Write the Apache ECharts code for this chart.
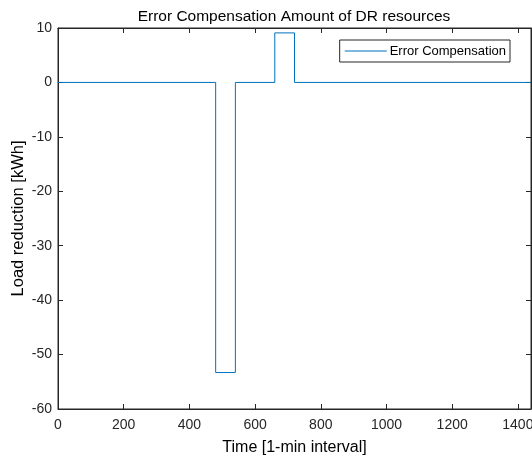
<!DOCTYPE html>
<html>
<head>
<meta charset="utf-8">
<script src="https://cdn.jsdelivr.net/npm/echarts@6/dist/echarts.min.js"></script>
<style>html,body{margin:0;padding:0;background:#fff;}#c{width:532px;height:459px;}</style>
</head>
<body>
<div id="c"></div>
<script>
var timePoints = [0, 480, 540, 660, 720, 1440];
var compensation = [0, -53.3, 0, 9.1, 0, 0];
var xTicks = [0, 200, 400, 600, 800, 1000, 1200, 1400];
var yTicks = [-60, -50, -40, -30, -20, -10, 0, 10];

var seriesData = timePoints.map(function (t, i) { return [t, compensation[i]]; });
var axisColor = '#262626';
var font = 'Liberation Sans, Arial, Helvetica, sans-serif';

var chart = echarts.init(document.getElementById('c'), null, {renderer: 'canvas'});
chart.setOption({
  animation: false,
  backgroundColor: '#fff',
  title: {
    text: 'Error Compensation Amount of DR resources',
    left: 289, top: 4, textAlign: 'center',
    textStyle: {fontFamily: font, fontSize: 15.5, fontWeight: 'normal', color: '#000'}
  },
  legend: {
    right: 22, top: 40,
    orient: 'vertical',
    backgroundColor: '#fff',
    borderColor: axisColor, borderWidth: 1, borderRadius: 0,
    padding: [4, 4, 4, 5],
    itemWidth: 42, itemHeight: 1, itemGap: 0,
    textStyle: {fontFamily: font, fontSize: 13, color: '#000', lineHeight: 14, padding: [0, 0, 0, -2]},
    data: [{name: 'Error Compensation', icon: 'rect'}]
  },
  grid: {left: 58, top: 28, right: 1, bottom: 50, show: true, borderColor: axisColor, borderWidth: 1, containLabel: false, outerBoundsMode: 'none'},
  xAxis: [{
    type: 'value', min: 0, max: 1440, interval: 200, position: 'bottom',
    name: 'Time [1-min interval]', nameLocation: 'middle', nameGap: 31, nameMoveOverlap: false,
    nameTextStyle: {fontFamily: font, fontSize: 16, color: '#000'},
    axisLine: {show: true, onZero: false, lineStyle: {color: axisColor, width: 1}},
    axisTick: {show: true, inside: true, length: 5, lineStyle: {color: axisColor}},
    axisLabel: {fontFamily: font, fontSize: 14, color: axisColor, margin: 9,
      formatter: function (v) { return xTicks.indexOf(v) >= 0 ? String(v) : ''; }},
    splitLine: {show: false}
  }, {
    type: 'value', min: 0, max: 1440, interval: 200, position: 'top',
    axisLine: {show: true, onZero: false, lineStyle: {color: axisColor}},
    axisTick: {show: true, inside: true, length: 5, lineStyle: {color: axisColor}},
    axisLabel: {show: false}, splitLine: {show: false}
  }],
  yAxis: [{
    type: 'value', min: -60, max: 10, interval: 10, position: 'left',
    name: 'Load reduction [kWh]', nameLocation: 'middle', nameGap: 31, nameMoveOverlap: false,
    nameTextStyle: {fontFamily: font, fontSize: 16.5, color: '#000'},
    axisLine: {show: true, onZero: false, lineStyle: {color: axisColor, width: 1}},
    axisTick: {show: true, inside: true, length: 5, lineStyle: {color: axisColor}},
    axisLabel: {fontFamily: font, fontSize: 14, color: axisColor, margin: 6,
      formatter: function (v) { return yTicks.indexOf(v) >= 0 ? String(v) : ''; }},
    splitLine: {show: false}
  }, {
    type: 'value', min: -60, max: 10, interval: 10, position: 'right',
    axisLine: {show: true, onZero: false, lineStyle: {color: axisColor}},
    axisTick: {show: true, inside: true, length: 5, lineStyle: {color: axisColor}},
    axisLabel: {show: false}, splitLine: {show: false}
  }],
  series: [{
    name: 'Error Compensation',
    type: 'line',
    step: 'end',
    data: seriesData,
    symbol: 'none',
    showSymbol: false,
    itemStyle: {color: '#0072BD'},
    lineStyle: {color: '#0072BD', width: 1}
  }]
});
</script>
</body>
</html>
